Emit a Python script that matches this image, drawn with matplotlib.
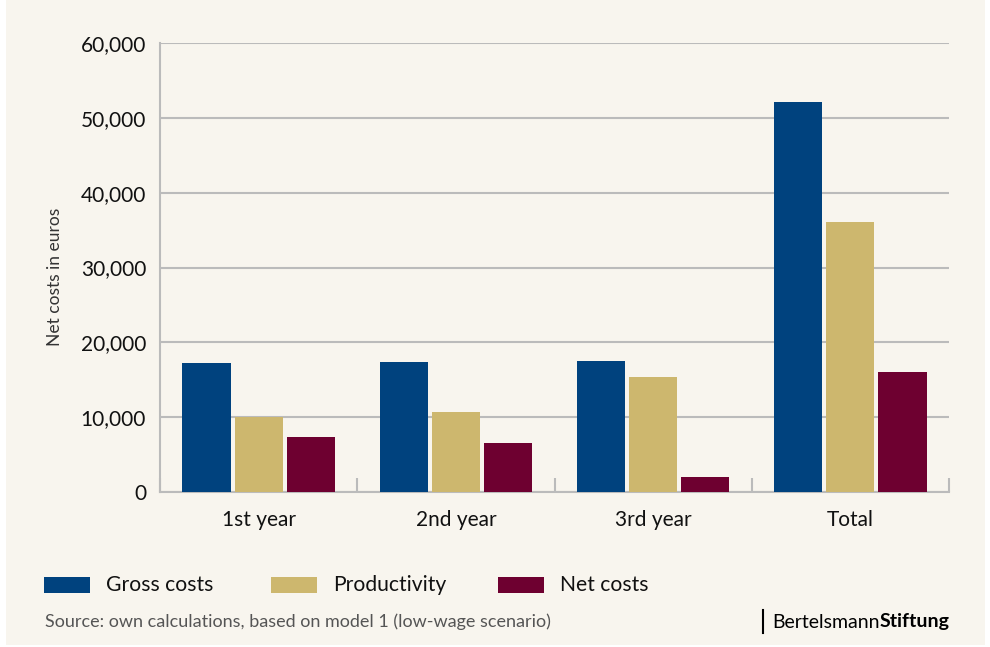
import matplotlib
matplotlib.use("Agg")
import matplotlib.pyplot as plt
import numpy as np
from matplotlib.patches import Rectangle
from matplotlib.lines import Line2D

# Data
categories = ['1st year', '2nd year', '3rd year', 'Total']
gross_costs = [17250, 17380, 17500, 52140]
productivity = [10030, 10700, 15370, 36100]
net_costs = [7350, 6550, 2000, 16040]
series_names = ['Gross costs', 'Productivity', 'Net costs']
colors = ['#00427E', '#CDB76E', '#6E0030']

bg = '#F8F5EE'
grid_col = '#BBBBBB'
W, H = 990, 647

plt.rcParams['font.family'] = ['Lato', 'DejaVu Sans']

fig = plt.figure(figsize=(9.9, 6.47), dpi=100)
fig.patch.set_facecolor('white')
# cream panel (white border at the edges)
fig.add_artist(Rectangle((6 / W, 2 / H), 979 / W, 645 / H,
                         transform=fig.transFigure, facecolor=bg,
                         edgecolor='none', zorder=-10))

ax = fig.add_axes([160 / W, 1 - 492 / H, 789 / W, 449 / H])
ax.set_facecolor(bg)

x = np.arange(len(categories))
width = 0.244
step = 0.264
for i, (vals, col) in enumerate(zip([gross_costs, productivity, net_costs], colors)):
    ax.bar(x + (i - 1) * step, vals, width, color=col, zorder=3,
           label=series_names[i])

ax.set_xlim(-0.5, len(categories) - 0.5)
ax.set_ylim(0, 60000)
ax.set_yticks(np.arange(0, 60001, 10000))
ax.set_yticklabels([f'{v:,}' for v in range(0, 60001, 10000)], fontsize=15)
ax.tick_params(axis='y', length=0, pad=10, colors='#111111')
ax.yaxis.grid(True, color=grid_col, linewidth=1.5, zorder=0)

ax.set_xticks(x)
ax.set_xticklabels(categories, fontsize=15, color='#111111')
ax.tick_params(axis='x', which='major', length=0, pad=13)
ax.set_xticks(np.arange(-0.5, len(categories), 1.0), minor=True)
ax.tick_params(axis='x', which='minor', direction='in', length=10,
               width=1.5, color=grid_col)

for s in ['top', 'right']:
    ax.spines[s].set_visible(False)
for s in ['left', 'bottom']:
    ax.spines[s].set_color(grid_col)
    ax.spines[s].set_linewidth(1.5)

fig.text(55 / W, 1 - 277 / H, 'Net costs in euros', rotation=90,
         ha='center', va='center', fontsize=12.5, color='#333333')

# legend: evenly spaced swatches
for i, (name, col) in enumerate(zip(series_names, colors)):
    x0 = 44 + i * 227
    fig.add_artist(Rectangle((x0 / W, 1 - 593 / H), 46 / W, 16 / H,
                             transform=fig.transFigure, facecolor=col,
                             edgecolor='none'))
    fig.text((x0 + 62) / W, 1 - 585 / H, name, ha='left', va='center',
             fontsize=15.2, color='#111111')

fig.text(45 / W, 1 - 622 / H,
         'Source: own calculations, based on model 1 (low-wage scenario)',
         ha='left', va='center', fontsize=13, color='#555555')

# logo
fig.add_artist(Line2D([763 / W, 763 / W], [1 - 610 / H, 1 - 633 / H],
                      transform=fig.transFigure, color='black', linewidth=1.5))
t1 = fig.text(772 / W, 1 - 622 / H, 'Bertelsmann', ha='left', va='center',
              fontsize=14, color='black')
fig.canvas.draw()
bb = t1.get_window_extent()
fig.text(bb.x1 / fig.bbox.width, 1 - 622 / H, 'Stiftung', ha='left',
         va='center', fontsize=14, color='black', fontweight='bold')

fig.savefig('out.png', dpi=100, facecolor=fig.get_facecolor())
